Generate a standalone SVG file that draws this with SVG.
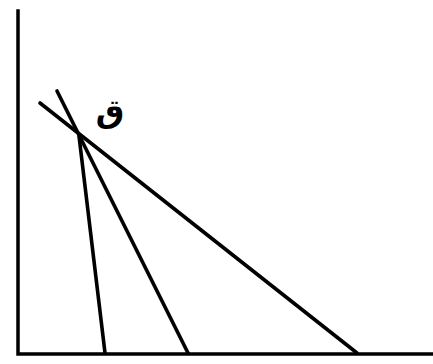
<svg xmlns="http://www.w3.org/2000/svg" width="433" height="364" viewBox="0 0 433 364">
<style>
.ax{stroke:#000;stroke-width:3.5;fill:none;stroke-linecap:square}
.ln{stroke:#000;stroke-width:3.6;fill:none;stroke-linecap:round}
.lb{font-family:"DejaVu Sans",sans-serif;font-size:32px;font-weight:bold;fill:#000}
</style>
<rect width="433" height="364" fill="#fff"/>
<g id="axes">
<path class="ax" d="M18,11 L18,354 L433,354"/>
</g>
<g id="connectors">
<line class="ln" x1="57" y1="91" x2="188" y2="353"/>
<line class="ln" x1="40" y1="103" x2="357" y2="353"/>
<line class="ln" x1="79" y1="136" x2="105" y2="353"/>
</g>
<g id="label">
<text class="lb" x="110" y="122" text-anchor="middle">ق</text>
</g>
</svg>
